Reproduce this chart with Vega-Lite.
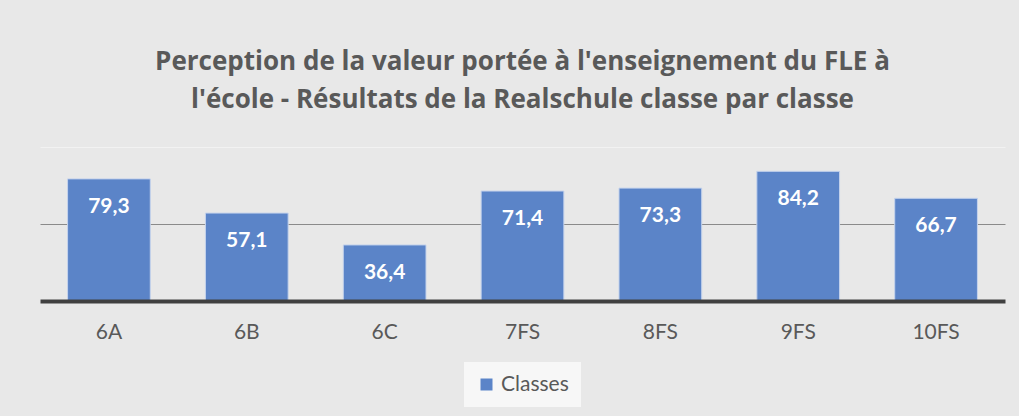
{
  "$schema": "https://vega.github.io/schema/vega-lite/v6.json",
  "width": 965,
  "height": 154,
  "autosize": "none",
  "padding": {"left": 40, "top": 147, "right": 14, "bottom": 115},
  "background": "#e8e8e8",
  "title": {
    "text": ["Perception de la valeur portée à l'enseignement du FLE à", "l'école - Résultats de la Realschule classe par classe"],
    "fontSize": 26,
    "font": "Open Sans",
    "fontWeight": "bold",
    "color": "#595959",
    "lineHeight": 38,
    "anchor": "middle",
    "offset": 34
  },
  "config": {
    "view": {"stroke": null},
    "legend": {"layout": {"bottom": {"anchor": "middle"}}},
    "locale": {"number": {"decimal": ",", "thousands": " ", "grouping": [3], "currency": ["", " €"]}}
  },
  "data": {
    "values": [
      {"classe": "6A", "valeur": 79.3},
      {"classe": "6B", "valeur": 57.1},
      {"classe": "6C", "valeur": 36.4},
      {"classe": "7FS", "valeur": 71.4},
      {"classe": "8FS", "valeur": 73.3},
      {"classe": "9FS", "valeur": 84.2},
      {"classe": "10FS", "valeur": 66.7}
    ]
  },
  "encoding": {
    "x": {
      "field": "classe",
      "type": "nominal",
      "sort": null,
      "scale": {"paddingInner": 0.4, "paddingOuter": 0.2},
      "axis": {
        "title": null,
        "labelAngle": 0,
        "ticks": false,
        "domainColor": "#404040",
        "domainWidth": 4,
        "labelFont": "Lato",
        "labelFontSize": 21,
        "labelColor": "#595959",
        "labelPadding": 20,
        "zindex": 1
      }
    },
    "y": {
      "field": "valeur",
      "type": "quantitative",
      "scale": {"domain": [0, 100]},
      "axis": {
        "title": null,
        "labels": false,
        "ticks": false,
        "domain": false,
        "values": [50, 100],
        "gridWidth": 1,
        "gridColor": {"condition": {"test": "datum.value === 50", "value": "#8a8a8a"}, "value": "#f2f2f2"}
      }
    }
  },
  "layer": [
    {
      "mark": {"type": "bar", "stroke": "#c5d3ec", "strokeWidth": 1},
      "encoding": {
        "color": {
          "datum": "Classes",
          "scale": {"range": ["#5b84c8"]},
          "legend": {
            "title": null,
            "orient": "bottom",
            "labelFont": "Lato",
            "labelFontSize": 21,
            "labelColor": "#595959",
            "symbolType": "square",
            "symbolSize": 144,
            "symbolStrokeWidth": 0,
            "fillColor": "#f7f7f7",
            "padding": 12,
            "offset": 20
          }
        }
      }
    },
    {
      "mark": {"type": "text", "baseline": "middle", "dy": 28, "color": "white", "fontWeight": "bold", "fontSize": 21, "font": "Lato"},
      "encoding": {"text": {"field": "valeur", "type": "quantitative", "format": ".1f"}}
    }
  ]
}
